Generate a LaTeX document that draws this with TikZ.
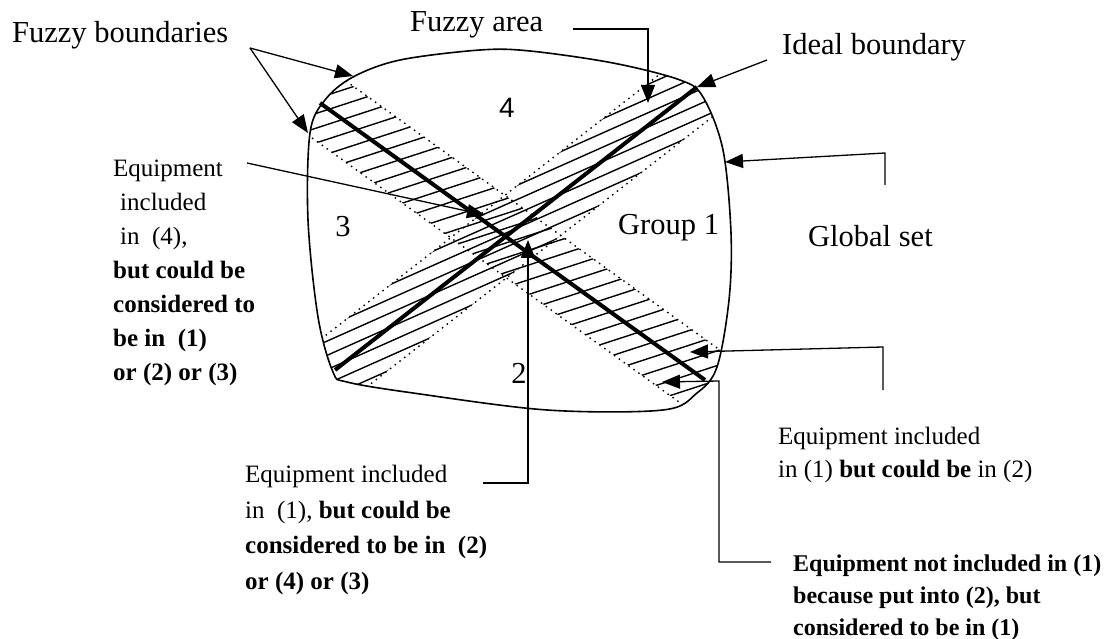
\documentclass[tikz,border=0pt]{standalone}
\usepackage{fontspec}
\setmainfont{Liberation Serif}
\newfontfamily\digitfont{Liberation Sans}
\usetikzlibrary{arrows.meta}

\tikzset{
  outline/.style={line width=1.6pt},
  boundary/.style={line width=4pt},
  hatch/.style={line width=1.4pt},
  fuzzy/.style={line width=1.4pt,dash pattern=on 1.5pt off 4.5pt},
  pointer/.style={line width=1.3pt,-{Triangle[length=18pt,width=14pt]}},
  bigtext/.style={font=\fontsize{30.5}{36}\selectfont,inner sep=0pt},
  smalltext/.style={font=\fontsize{25}{34.5}\selectfont,inner sep=0pt,align=left,anchor=north west},
}

\begin{document}
\begin{tikzpicture}[x=1pt,y=-1pt]
  \useasboundingbox (0,0) rectangle (1104,639);

  % Hatching along the fuzzy boundary (NW-SE)
  \begin{scope}
    \clip plot[smooth cycle,tension=0.55] coordinates {(310,133) (325,100) (353,77) (400,60) (480,50) (530,51) (613,63) (680,80) (703,97) (723,150) (731,233) (729,300) (717,367) (697,393) (663,410) (547,410) (413,393) (347,382) (333,372) (318,317) (308,220)};
    \clip (306.8,52.8) -- (756.8,376.6) -- (718.2,430.2) -- (268.2,106.4) -- cycle;
    \foreach \k in {-20,...,20}
      \draw[hatch] ({512+4.33*\k},{241+13.31*\k}) ++(-476,155) -- ++(952,-310);
  \end{scope}

  % Hatching along the ideal boundary (SW-NE)
  \begin{scope}
    \clip plot[smooth cycle,tension=0.55] coordinates {(310,133) (325,100) (353,77) (400,60) (480,50) (530,51) (613,63) (680,80) (703,97) (723,150) (731,233) (729,300) (717,367) (697,393) (663,410) (547,410) (413,393) (347,382) (333,372) (318,317) (308,220)};
    \clip (283.2,368.6) -- (708.2,36.4) -- (748.8,88.4) -- (323.8,420.6) -- cycle;
    \foreach \k in {-9,...,9}
      \draw[hatch] ({516+5.29*\k},{228.5+11.88*\k}) ++(-457,203.5) -- ++(914,-407);
  \end{scope}

  % Dotted edges of the fuzzy areas
  \begin{scope}
    \clip plot[smooth cycle,tension=0.55] coordinates {(310,133) (325,100) (353,77) (400,60) (480,50) (530,51) (613,63) (680,80) (703,97) (723,150) (731,233) (729,300) (717,367) (697,393) (663,410) (547,410) (413,393) (347,382) (333,372) (318,317) (308,220)};
    \draw[fuzzy] (306.8,52.8) -- (756.8,376.6);
    \draw[fuzzy] (268.2,106.4) -- (718.2,430.2);
    \draw[fuzzy] (283.2,368.6) -- (708.2,36.4);
    \draw[fuzzy] (323.8,420.6) -- (748.8,88.4);
  \end{scope}

  % Global set
  \draw[outline] plot[smooth cycle,tension=0.55] coordinates {(310,133) (325,100) (353,77) (400,60) (480,50) (530,51) (613,63) (680,80) (703,97) (723,150) (731,233) (729,300) (717,367) (697,393) (663,410) (547,410) (413,393) (347,382) (333,372) (318,317) (308,220)};

  % Boundaries
  \coordinate (fzstart) at (320,103);
  \coordinate (fzend) at (705,380);
  \coordinate (idstart) at (335,370);
  \coordinate (idend) at (697,87);
  \draw[boundary] (fzstart) -- (fzend);
  \draw[boundary] (idstart) -- (idend);

  % Region labels
  \node[font=\digitfont\fontsize{28}{32}\selectfont,inner sep=0pt,anchor=base] (reg4) at (507,118) {4};
  \node[bigtext,anchor=base] (reg3) at (343,237) {3};
  \node[bigtext,anchor=base] (reg2) at (519,383) {2};
  \node[bigtext,anchor=base west] (group1) at (618,235) {Group 1};

  % Titles
  \node[bigtext,anchor=base west] (fzbound) at (12,43) {Fuzzy boundaries};
  \node[bigtext,anchor=base west] (fzarea) at (410,32) {Fuzzy area};
  \node[bigtext,anchor=base west] (idbound) at (782,55) {Ideal boundary};
  \node[bigtext,anchor=base west] (global) at (808,247) {Global set};

  % Notes
  \node[smalltext,font=\fontsize{25}{34}\selectfont] (note4) at (113,160)
    {Equipment\\\hspace{7pt}included\\\hspace{7pt}in\enspace(4),\\\textbf{but could be}\\\textbf{considered to}\\\textbf{be in\enspace(1)}\\\textbf{or (2) or (3)}};
  \node[smalltext,font=\fontsize{25}{35.5}\selectfont] (note1) at (245,465)
    {Equipment included\\in\enspace(1), \textbf{but could be}\\\textbf{considered to be in\enspace(2)}\\\textbf{or (4) or (3)}};
  \node[smalltext,font=\fontsize{25}{33}\selectfont] (note2) at (778,427)
    {Equipment included\\in (1) \textbf{but could be} in (2)};
  \node[smalltext,font=\bfseries\fontsize{24}{32}\selectfont] (notenot) at (793,555)
    {Equipment not included in (1)\\because put into (2), but\\considered to be in (1)};

  % Pointers
  \coordinate (fbapex) at (250,48);
  \coordinate (fbtop) at (353,76);
  \coordinate (fbleft) at (308,133);
  \draw[pointer] (fbapex) -- (fbtop);
  \draw[pointer] (fbapex) -- (fbleft);

  \coordinate (fafoot) at (573,29);
  \coordinate (fatip) at (648,103);
  \draw[pointer] (fafoot) -| (fatip);

  \coordinate (ibfoot) at (767,60);
  \draw[pointer] (ibfoot) -- (idend);

  \coordinate (gsfoot) at (885,185);
  \coordinate (gscorner) at (885,153);
  \coordinate (gstip) at (725,162);
  \draw[pointer] (gsfoot) -- (gscorner) -- (gstip);

  \coordinate (n4foot) at (247,163);
  \coordinate (n4tip) at (485,215);
  \draw[pointer] (n4foot) -- (n4tip);

  \coordinate (n1foot) at (483,483);
  \coordinate (n1tip) at (528,240);
  \draw[pointer] (n1foot) -| (n1tip);

  \coordinate (n2foot) at (883,390);
  \coordinate (n2corner) at (883,347);
  \coordinate (n2tip) at (690,352);
  \draw[pointer] (n2foot) -- (n2corner) -- (n2tip);

  \coordinate (nnfoot) at (771,562);
  \coordinate (nncorner) at (719,381);
  \coordinate (nntip) at (662,382);
  \draw[pointer] (nnfoot) -| (nncorner) -- (nntip);
\end{tikzpicture}
\end{document}
